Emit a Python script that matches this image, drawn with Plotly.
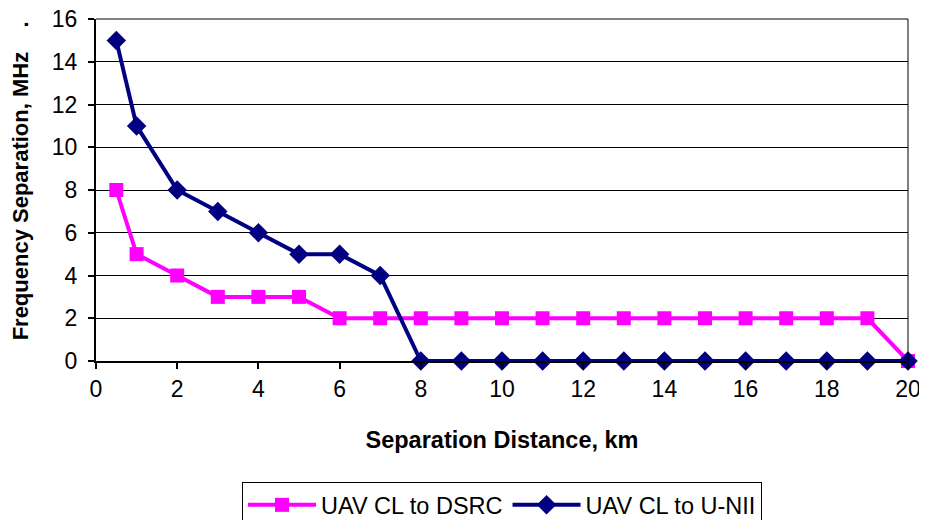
import plotly.graph_objects as go

distance_km = [0.5, 1, 2, 3, 4, 5, 6, 7, 8, 9, 10, 11, 12, 13, 14, 15, 16, 17, 18, 19, 20]
dsrc_mhz = [8, 5, 4, 3, 3, 3, 2, 2, 2, 2, 2, 2, 2, 2, 2, 2, 2, 2, 2, 2, 0]
unii_mhz = [15, 11, 8, 7, 6, 5, 5, 4, 0, 0, 0, 0, 0, 0, 0, 0, 0, 0, 0, 0, 0]

x_ticks = [0, 2, 4, 6, 8, 10, 12, 14, 16, 18, 20]
y_ticks = [0, 2, 4, 6, 8, 10, 12, 14, 16]

FONT = "Liberation Sans, Arial, sans-serif"
NB = "\u00a0"

fig = go.Figure()
fig.add_trace(go.Scatter(
    x=distance_km, y=dsrc_mhz, mode="lines+markers", name="UAV CL to DSRC",
    line=dict(color="#FF00FF", width=4),
    marker=dict(symbol="square", size=14, color="#FF00FF"),
    cliponaxis=False,
))
fig.add_trace(go.Scatter(
    x=distance_km, y=unii_mhz, mode="lines+markers", name="UAV CL to U-NII",
    line=dict(color="#000080", width=4),
    marker=dict(symbol="diamond", size=15, color="#000080"),
    cliponaxis=False,
))

# page body has an 8px margin, so the figure is offset by (8, 8)
fig.update_layout(
    width=927, height=520,
    margin=dict(l=88, r=27, t=11, b=167, autoexpand=False),
    paper_bgcolor="white", plot_bgcolor="white",
    font=dict(family=FONT, color="black", size=22),
    showlegend=True,
    legend=dict(
        orientation="h", x=0.5, xanchor="center", y=-0.354, yanchor="top",
        bordercolor="black", borderwidth=1, font=dict(size=23.5, family=FONT),
        tracegroupgap=0, itemwidth=68,
    ),
    xaxis=dict(
        range=[0, 20], tickvals=x_ticks, ticktext=[str(v) for v in x_ticks],
        ticks="outside", ticklen=6, tickcolor="black", tickwidth=1.5,
        showline=True, linecolor="black", linewidth=2,
        showgrid=False, zeroline=False, automargin=False,
        ticklabeloverflow="allow",
        title=dict(text="<b>Separation Distance, km</b>", font=dict(size=23.5, family=FONT), standoff=31),
        tickfont=dict(size=23),
    ),
    yaxis=dict(
        range=[0, 16], tickvals=y_ticks, ticktext=[str(v) for v in y_ticks],
        ticks="outside", ticklen=6, tickcolor="black", tickwidth=1.5,
        showline=True, linecolor="black", linewidth=2,
        showgrid=True, gridcolor="black", gridwidth=1, zeroline=False, automargin=False,
        ticklabelstandoff=6, ticklabeloverflow="allow",
        title=dict(text="<b>" + NB * 3 + "Frequency Separation, MHz" + NB * 4 + ".</b>",
                   font=dict(size=22, family=FONT), standoff=18),
        tickfont=dict(size=23),
    ),
    shapes=[
        dict(type="line", xref="paper", yref="paper", x0=1, x1=1, y0=0, y1=1,
             line=dict(color="black", width=1)),
        dict(type="line", xref="paper", yref="paper", x0=0, x1=1, y0=1, y1=1,
             line=dict(color="black", width=1)),
    ],
)

fig.write_html("out.html")
